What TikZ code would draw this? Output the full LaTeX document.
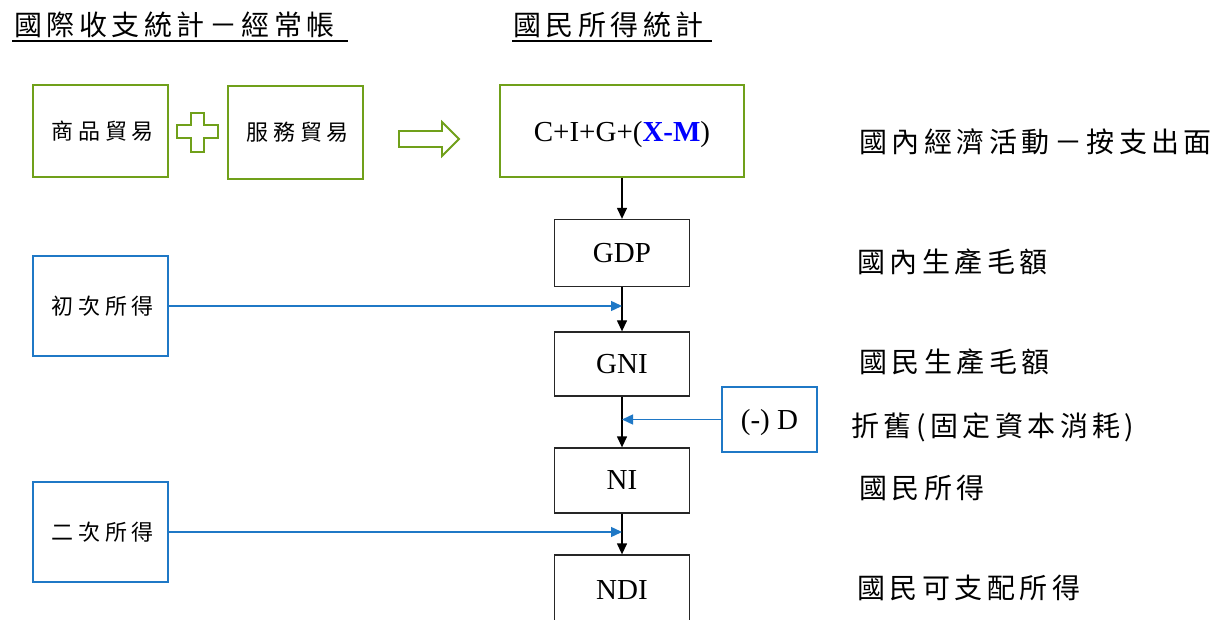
\documentclass[tikz,border=0pt]{standalone}
\usepackage{fontspec}
\setmainfont{Liberation Serif}
\newfontfamily\cjkbig[LetterSpace=16]{Noto Sans CJK TC}
\newfontfamily\cjksmall[LetterSpace=21]{Noto Sans CJK TC}
\usetikzlibrary{arrows.meta,calc}
\definecolor{boxgreen}{HTML}{70A01A}
\definecolor{boxblue}{HTML}{1F78C6}
\definecolor{xmblue}{HTML}{0000FF}
\begin{document}
\begin{tikzpicture}[x=1pt,y=-1pt,
  greenbox/.style={draw=boxgreen,line width=2pt,fill=white,inner sep=0pt},
  bluebox/.style={draw=boxblue,line width=1.8pt,inner sep=0pt},
  blackbox/.style={draw=black!85,line width=1.3pt,inner sep=0pt},
  latin/.style={font=\fontsize{29}{31}\selectfont,text depth=0pt},
  smallcjk/.style={font=\cjksmall\fontsize{22}{24}\selectfont},
  bigcjk/.style={font=\cjkbig\fontsize{28}{30}\selectfont,inner sep=0pt,anchor=west},
  flow/.style={draw=black,line width=1.3pt,-{Triangle[width=10pt,length=11pt]}},
  feed/.style={draw=boxblue,line width=1.4pt,-{Triangle[width=10pt,length=11pt]}}]
\useasboundingbox (0,0) rectangle (1224,620);
\clip (0,0) rectangle (1224,620);
\fill[white] (0,0) rectangle (1224,620);

% titles
\node[bigcjk] (tleft) at (14,25) {國際收支統計－經常帳};
\node[bigcjk] (tright) at (513,25) {國民所得統計};
\draw[line width=1.3pt] (12,41) -- (348,41);
\draw[line width=1.3pt] (512,41) -- (712,41);

% current account boxes
\node[greenbox,minimum width=135pt,minimum height=92pt,smallcjk] (goods) at (100.5,131) {商品貿易\kern-4.6pt};
\node[greenbox,minimum width=135pt,minimum height=93pt,smallcjk] (serv) at (295.5,132.5) {服務貿易\kern-4.6pt};
\draw[boxgreen,line width=1.8pt,fill=white] (191,113) -- (204,113) -- (204,125) -- (218,125) -- (218,138) -- (204,138) -- (204,152) -- (191,152) -- (191,138) -- (177,138) -- (177,125) -- (191,125) -- cycle;
\draw[boxgreen,line width=1.8pt,fill=white] (399,131) -- (442,131) -- (442,122) -- (459,139) -- (442,156) -- (442,147) -- (399,147) -- cycle;

% national income chain
\node[greenbox,minimum width=244pt,minimum height=92pt,latin] (cig) at (622,131) {C+I+G+(\textcolor{xmblue}{\textbf{X-M}})};
\node[blackbox,minimum width=135pt,minimum height=67pt,latin] (gdp) at (622,253) {GDP};
\node[blackbox,minimum width=135pt,minimum height=64pt,latin] (gni) at (622,364) {GNI};
\node[blackbox,minimum width=135pt,minimum height=65pt,latin] (ni) at (622,480.5) {NI};
\node[blackbox,minimum width=135pt,minimum height=70pt,latin] (ndi) at (622,590) {NDI};

\node[bluebox,minimum width=135pt,minimum height=100pt,smallcjk] (prim) at (100.5,306) {初次所得\kern-4.6pt};
\node[bluebox,minimum width=135pt,minimum height=100pt,smallcjk] (sec) at (100.5,532) {二次所得\kern-4.6pt};
\node[bluebox,minimum width=95pt,minimum height=65pt,latin] (dep) at (769.5,419.5) {(-) D};

\draw[flow] (cig.south) -- (gdp.north);
\draw[flow] (gdp.south) -- (gni.north);
\draw[flow] (gni.south) -- (ni.north);
\draw[flow] (ni.south) -- (ndi.north);

\coordinate (pj) at (prim.east -| gdp.south);
\coordinate (dj) at (dep.west -| gni.south);
\coordinate (sj) at (sec.east -| ni.south);
\draw[feed] (prim.east) -- (pj);
\draw[feed] (dep.west) -- (dj);
\draw[feed] (sec.east) -- (sj);

% right-hand labels
\node[bigcjk] (l1) at (859,142) {國內經濟活動－按支出面};
\node[bigcjk] (l2) at (857,262) {國內生產毛額};
\node[bigcjk] (l3) at (859,362) {國民生產毛額};
\node[bigcjk] (l4) at (851,427) {折舊(固定資本消耗)};
\node[bigcjk] (l5) at (859,488) {國民所得};
\node[bigcjk] (l6) at (857,588) {國民可支配所得};
\end{tikzpicture}
\end{document}
